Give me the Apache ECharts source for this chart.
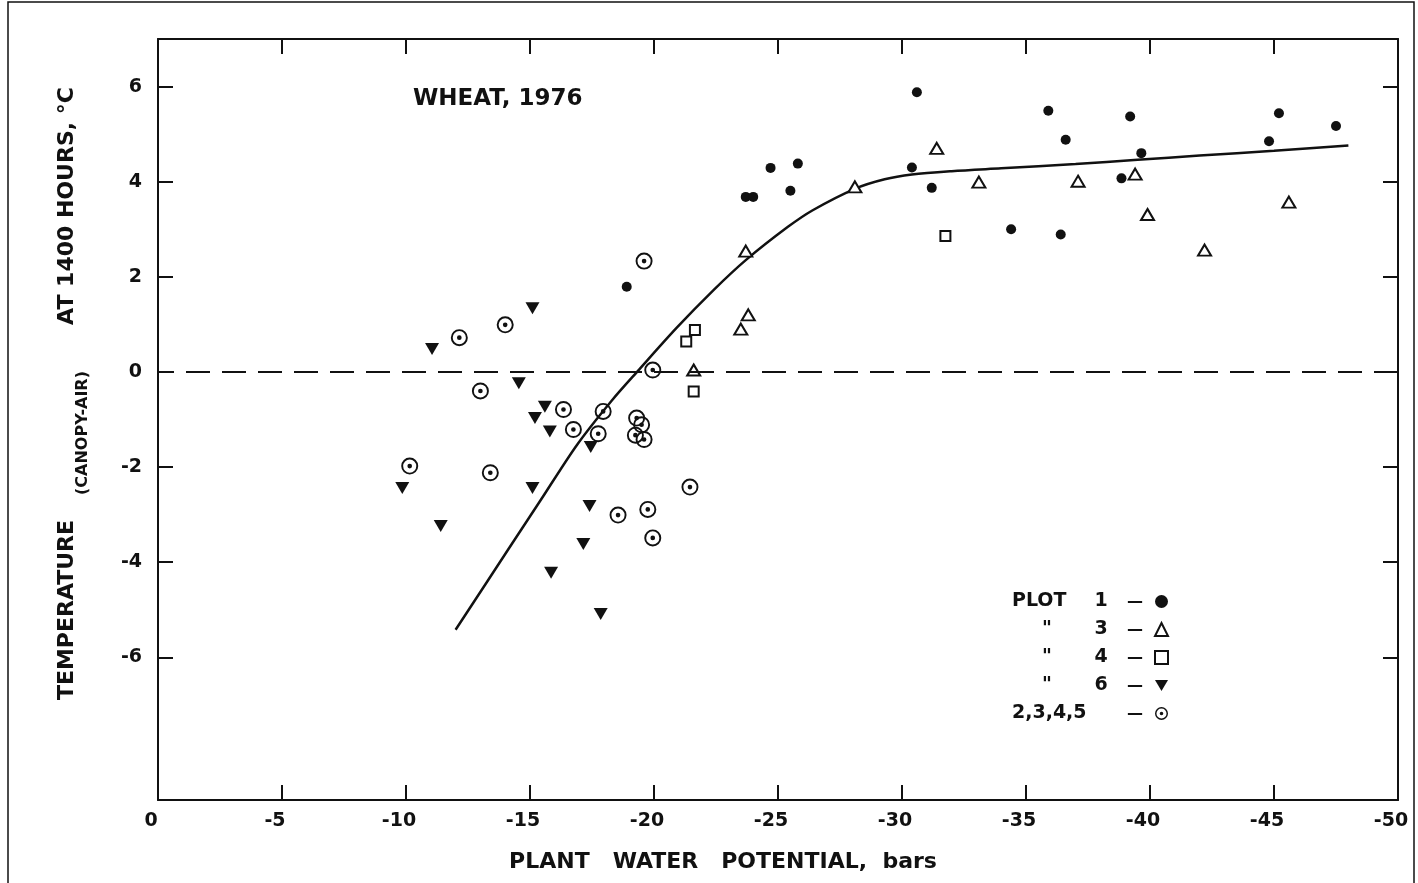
<!DOCTYPE html>
<html>
<head>
<meta charset="utf-8">
<title>Wheat, 1976 – canopy-air temperature vs plant water potential</title>
<script src="https://cdn.jsdelivr.net/npm/echarts@6/dist/echarts.min.js"></script>
<style>
  html, body { margin: 0; padding: 0; background: #fff; }
  #chart { width: 1418px; height: 883px; }
</style>
</head>
<body>
<div id="chart"></div>
<script>
// Plant water potential (bars) and canopy-minus-air temperature (°C) per plot group
const plot1X = [-18.9, -23.7, -24.0, -24.7, -25.5, -25.8, -30.6, -30.4, -31.2, -34.4, -35.9, -36.4, -36.6, -38.85, -39.2, -39.65, -44.8, -45.2, -47.5];
const plot1Y = [1.79, 3.68, 3.68, 4.29, 3.81, 4.38, 5.88, 4.30, 3.87, 3.00, 5.49, 2.89, 4.88, 4.07, 5.37, 4.60, 4.85, 5.44, 5.17];

const plot3X = [-21.6, -23.5, -23.8, -23.7, -28.1, -31.4, -33.1, -37.1, -39.4, -39.9, -42.2, -45.6];
const plot3Y = [0.04, 0.90, 1.20, 2.54, 3.89, 4.70, 3.99, 4.01, 4.16, 3.31, 2.56, 3.57];

const plot4X = [-21.65, -21.3, -21.6, -31.75];
const plot4Y = [0.88, 0.64, -0.41, 2.86];

const plot6X = [-15.1, -11.05, -14.55, -15.6, -15.2, -15.8, -17.45, -9.85, -15.1, -11.4, -17.4, -17.15, -15.85, -17.85];
const plot6Y = [1.34, 0.48, -0.24, -0.73, -0.97, -1.25, -1.58, -2.44, -2.44, -3.24, -2.82, -3.62, -4.22, -5.09];

const plot2345X = [-19.6, -14.0, -12.15, -19.95, -13.0, -16.35, -17.95, -16.75, -17.75, -19.3, -19.5, -19.25, -19.6, -10.15, -13.4, -21.45, -18.55, -19.75, -19.95];
const plot2345Y = [2.33, 0.99, 0.72, 0.04, -0.40, -0.79, -0.83, -1.21, -1.30, -0.97, -1.11, -1.33, -1.42, -1.98, -2.12, -2.42, -3.01, -2.89, -3.49];

// Fitted relationship
const curveX = [-12.0, -14.1, -15.4, -16.9, -18.3, -19.4, -20.9, -22.4, -23.7, -25.4, -26.4, -28.1, -29.3, -30.4, -32.0, -34.0, -37.0, -39.5, -42.0, -45.0, -48.0];
const curveY = [-5.42, -3.75, -2.72, -1.53, -0.60, 0.05, 0.92, 1.72, 2.35, 3.05, 3.40, 3.85, 4.05, 4.15, 4.22, 4.28, 4.37, 4.46, 4.55, 4.65, 4.76];

// Axis ticks
const xTickValues = [-5, -10, -15, -20, -25, -30, -35, -40, -45];
const xLabelValues = [0, -5, -10, -15, -20, -25, -30, -35, -40, -45, -50];
const yTickValues = [-6, -4, -2, 0, 2, 4, 6];

const INK = '#111';
const FONT = 'DejaVu Sans';
const WEIGHT = 'bold';

const zip = (xs, ys) => xs.map((x, i) => [x, ys[i]]);

// ring with a centre dot
const targetSymbol = 'path://M0,8A8,8,0,1,0,16,8A8,8,0,1,0,0,8Z M1.8,8A6.2,6.2,0,1,1,14.2,8A6.2,6.2,0,1,1,1.8,8Z M5.8,8A2.2,2.2,0,1,0,10.2,8A2.2,2.2,0,1,0,5.8,8Z';
const downTriangle = 'path://M0,0L14,0L7,12Z';

const legendText = {
  'PLOT 1': '{a|PLOT}{b|1}{c|—}',
  'PLOT 3': '{d|"}{b|3}{c|—}',
  'PLOT 4': '{d|"}{b|4}{c|—}',
  'PLOT 6': '{d|"}{b|6}{c|—}',
  'PLOTS 2,3,4,5': '{e|2,3,4,5}{c|—}'
};

const tok = (w, align, size, weight) => ({
  width: w, align: align, fontSize: size || 19, fontFamily: FONT,
  fontWeight: weight || WEIGHT, color: INK, lineHeight: 22
});

const chart = echarts.init(document.getElementById('chart'), null, { renderer: 'canvas' });

const baseX = {
  type: 'value', min: -50, max: 0, inverse: true, interval: 5,
  splitLine: { show: false },
  axisLine: { show: true, onZero: false, lineStyle: { color: INK, width: 2 } },
  axisTick: { show: true, inside: true, length: 15, customValues: xTickValues, lineStyle: { color: INK, width: 2 } }
};
const baseY = {
  type: 'value', min: -9, max: 7,
  splitLine: { show: false },
  axisLine: { show: true, onZero: false, lineStyle: { color: INK, width: 2 } },
  axisTick: { show: true, inside: true, length: 15, customValues: yTickValues, lineStyle: { color: INK, width: 2 } }
};

chart.setOption({
  animation: false,
  backgroundColor: '#fff',
  title: {
    text: 'WHEAT, 1976',
    left: 408, top: 83,
    textStyle: { fontFamily: FONT, fontSize: 23, fontWeight: WEIGHT, color: INK }
  },
  grid: { left: 158, right: 20, top: 39, bottom: 83 },
  xAxis: [
    Object.assign({}, baseX, {
      position: 'bottom',
      axisLabel: {
        show: true, customValues: xLabelValues, margin: 12,
        padding: [0, 14, 0, 0],
        fontFamily: FONT, fontWeight: WEIGHT, fontSize: 19, color: INK
      }
    }),
    Object.assign({}, baseX, { position: 'top', axisLabel: { show: false } })
  ],
  yAxis: [
    Object.assign({}, baseY, {
      position: 'left',
      axisLabel: { show: true, customValues: yTickValues, margin: 16, fontFamily: FONT, fontWeight: WEIGHT, fontSize: 19, color: INK }
    }),
    Object.assign({}, baseY, { position: 'right', axisLabel: { show: false } })
  ],
  legend: {
    data: [
      { name: 'PLOT 1' },
      { name: 'PLOT 3' },
      { name: 'PLOT 4' },
      { name: 'PLOT 6', icon: downTriangle },
      { name: 'PLOTS 2,3,4,5' }
    ],
    orient: 'vertical',
    left: 1007, top: 587,
    align: 'right',
    itemWidth: 13, itemHeight: 13, itemGap: 9,
    selectedMode: false,
    formatter: name => legendText[name],
    textStyle: {
      fontFamily: FONT, fontSize: 19, fontWeight: WEIGHT, color: INK,
      rich: {
        a: tok(70, 'left'),
        d: tok(70, 'center'),
        b: tok(38, 'center'),
        c: tok(30, 'center', 16),
        e: tok(108, 'left')
      }
    }
  },
  graphic: [
    { type: 'rect', silent: true, shape: { x: 8, y: 2, width: 1406, height: 900 },
      style: { fill: 'none', stroke: INK, lineWidth: 1.5 } },
    { type: 'text', silent: true, x: 723, y: 862,
      style: { text: 'PLANT   WATER   POTENTIAL,  bars', fontFamily: FONT, fontWeight: WEIGHT, fontSize: 22, fill: INK, align: 'center', verticalAlign: 'middle' } },
    { type: 'text', silent: true, x: 67, y: 610, rotation: Math.PI / 2,
      style: { text: 'TEMPERATURE', fontFamily: FONT, fontWeight: WEIGHT, fontSize: 22, fill: INK, align: 'center', verticalAlign: 'middle' } },
    { type: 'text', silent: true, x: 83, y: 433, rotation: Math.PI / 2,
      style: { text: '(CANOPY-AIR)', fontFamily: FONT, fontWeight: WEIGHT, fontSize: 16, fill: INK, align: 'center', verticalAlign: 'middle' } },
    { type: 'text', silent: true, x: 67, y: 206, rotation: Math.PI / 2,
      style: { text: 'AT 1400 HOURS, °C', fontFamily: FONT, fontWeight: WEIGHT, fontSize: 22, fill: INK, align: 'center', verticalAlign: 'middle' } }
  ],
  series: [
    {
      name: 'curve', type: 'line', silent: true,
      data: zip(curveX, curveY),
      smooth: 0.3, showSymbol: false, symbol: 'none',
      lineStyle: { color: INK, width: 2.5 },
      markLine: {
        silent: true, symbol: 'none', label: { show: false },
        lineStyle: { color: INK, width: 2, type: [24, 12] },
        data: [{ yAxis: 0 }]
      },
      z: 1
    },
    {
      name: 'PLOT 1', type: 'scatter', silent: true,
      data: zip(plot1X, plot1Y),
      symbol: 'circle', symbolSize: 10,
      itemStyle: { color: INK, opacity: 1 }, z: 3
    },
    {
      name: 'PLOT 3', type: 'scatter', silent: true,
      data: zip(plot3X, plot3Y),
      symbol: 'triangle', symbolSize: [13, 11],
      itemStyle: { color: '#fff', borderColor: INK, borderWidth: 2, opacity: 1 }, z: 3
    },
    {
      name: 'PLOT 4', type: 'scatter', silent: true,
      data: zip(plot4X, plot4Y),
      symbol: 'rect', symbolSize: 10,
      itemStyle: { color: '#fff', borderColor: INK, borderWidth: 2, opacity: 1 }, z: 3
    },
    {
      name: 'PLOT 6', type: 'scatter', silent: true,
      data: zip(plot6X, plot6Y),
      symbol: downTriangle, symbolSize: [14, 12],
      itemStyle: { color: INK, opacity: 1 }, z: 3
    },
    {
      name: 'PLOTS 2,3,4,5', type: 'scatter', silent: true,
      data: zip(plot2345X, plot2345Y),
      symbol: targetSymbol, symbolKeepAspect: true, symbolSize: 17,
      itemStyle: { color: INK, opacity: 1 }, z: 3
    }
  ]
});
</script>
</body>
</html>
